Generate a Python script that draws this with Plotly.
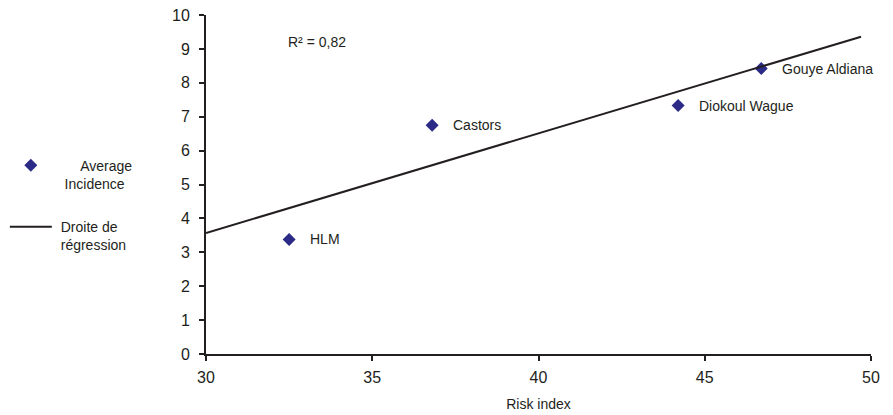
import plotly.graph_objects as go

# Quartiers: indice de risque vs incidence moyenne
sites = ["HLM", "Castors", "Diokoul Wague", "Gouye Aldiana"]
risk_index = [32.5, 36.8, 44.2, 46.7]
avg_incidence = [3.38, 6.75, 7.33, 8.42]

# Droite de régression (extrémités)
reg_x = [30.0, 49.7]
reg_y = [3.57, 9.36]
r2_text = "R² = 0,82"

x_ticks = [30, 35, 40, 45, 50]
y_ticks = list(range(0, 11))

ink = "#231f20"
navy = "#2b2a86"
font_family = "Liberation Sans, Arial, sans-serif"
nb = "\u00a0"

fig = go.Figure()

fig.add_trace(go.Scatter(
    x=risk_index, y=avg_incidence, mode="markers",
    name=nb * 6 + "Average<br>" + nb * 2 + "Incidence", legendgroup="pts",
    marker=dict(symbol="diamond", size=10, color=navy),
    cliponaxis=False,
))

fig.add_trace(go.Scatter(
    x=reg_x, y=reg_y, mode="lines",
    name=nb + "Droite de<br>" + nb + "régression", legendgroup="reg",
    line=dict(color=ink, width=2),
    cliponaxis=False,
))

for name, xv, yv in zip(sites, risk_index, avg_incidence):
    fig.add_annotation(
        x=xv, y=yv, text=name, showarrow=False,
        xanchor="left", yanchor="middle", xshift=19,
        font=dict(size=14, color=ink, family=font_family),
    )

fig.add_annotation(
    x=32.4, y=9.2, text=r2_text, showarrow=False,
    xanchor="left", yanchor="middle",
    font=dict(size=14, color=ink, family=font_family),
)

axis_common = dict(
    showgrid=False, zeroline=False, showline=True, automargin=False,
    linecolor=ink, linewidth=2, ticks="outside", ticklen=5,
    tickcolor=ink, tickwidth=1.5,
    tickfont=dict(size=16, color=ink, family=font_family),
)

fig.update_xaxes(
    range=[30, 50], tickvals=x_ticks, ticklabelstandoff=3,
    title=dict(text="Risk index", font=dict(size=14, color=ink, family=font_family), standoff=14),
    **axis_common,
)
fig.update_yaxes(range=[0, 10], tickvals=y_ticks, ticklabelstandoff=6, **axis_common)

fig.update_layout(
    width=893, height=415,
    margin=dict(l=206, r=22, t=15, b=61, autoexpand=False),
    paper_bgcolor="white", plot_bgcolor="white",
    font=dict(family=font_family, color=ink, size=14),
    legend=dict(
        x=-0.3025, xanchor="left", y=0.439, yanchor="middle",
        valign="top", tracegroupgap=22, itemwidth=42,
        font=dict(size=14, color=ink, family=font_family),
        bgcolor="rgba(0,0,0,0)",
    ),
)

fig.write_html("out.html")
